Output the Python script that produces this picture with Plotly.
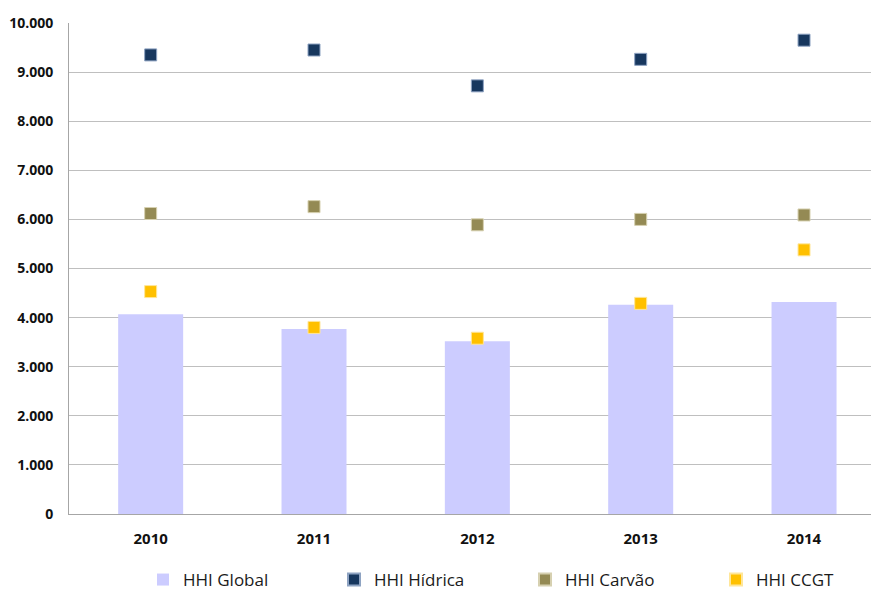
import plotly.graph_objects as go

anos = ["2010", "2011", "2012", "2013", "2014"]
hhi_global = [4070, 3770, 3520, 4260, 4320]
hhi_hidrica = [9350, 9450, 8720, 9260, 9650]
hhi_carvao = [6120, 6260, 5890, 6000, 6090]
hhi_ccgt = [4530, 3800, 3580, 4290, 5380]

y_ticks = [0, 1000, 2000, 3000, 4000, 5000, 6000, 7000, 8000, 9000, 10000]
y_tick_labels = ["0", "1.000", "2.000", "3.000", "4.000", "5.000",
                 "6.000", "7.000", "8.000", "9.000", "10.000"]

FONT = "Open Sans, Liberation Sans, sans-serif"

fig = go.Figure()
fig.add_trace(go.Bar(
    x=anos, y=hhi_global, name="HHI Global",
    marker=dict(color="#CCCCFF", line=dict(width=0)),
))

def pontos(valores, nome, cor, borda):
    return go.Scatter(
        x=anos, y=valores, name=nome, mode="markers",
        marker=dict(symbol="square", size=12, color=cor,
                    line=dict(color=borda, width=1)),
    )

fig.add_trace(pontos(hhi_hidrica, "HHI Hídrica", "#17375E", "#8EA3C2"))
fig.add_trace(pontos(hhi_carvao, "HHI Carvão", "#948A54", "#D6D0B0"))
fig.add_trace(pontos(hhi_ccgt, "HHI CCGT", "#FFC000", "#FFE699"))

fig.update_layout(
    width=871, height=590,
    margin=dict(l=69, r=0, t=23, b=76),
    paper_bgcolor="white", plot_bgcolor="white",
    bargap=0.602,
    showlegend=True,
    legend=dict(
        orientation="h", x=143 / 871, xanchor="left",
        y=10 / 590, yanchor="middle",
        xref="container", yref="container",
        font=dict(family=FONT, size=17, color="#1A1A1A"),
        entrywidth=146, entrywidthmode="pixels",
        itemsizing="constant", itemwidth=30,
    ),
    font=dict(family=FONT),
)
fig.update_xaxes(
    type="category", range=[-0.5, 4.41],
    showline=True, linecolor="#A6A6A6", linewidth=1,
    showgrid=False, ticks="", ticklabelstandoff=11,
    tickfont=dict(family=FONT, size=15, color="#111111", weight="bold"),
)
fig.update_yaxes(
    range=[0, 10000],
    tickvals=y_ticks, ticktext=y_tick_labels,
    showline=True, linecolor="#A6A6A6", linewidth=1,
    showgrid=True, gridcolor="#BFBFBF", gridwidth=1,
    zeroline=False, ticks="", ticklabelstandoff=12,
    tickfont=dict(family=FONT, size=14, color="#111111", weight="bold"),
)

fig.write_html("out.html")
